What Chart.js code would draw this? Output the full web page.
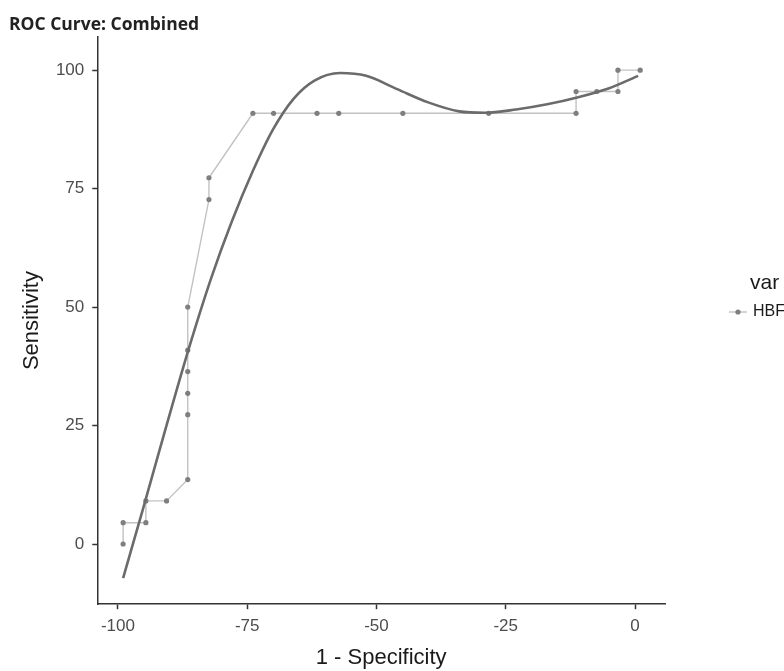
<!DOCTYPE html>
<html>
<head>
<meta charset="utf-8">
<script src="https://cdn.jsdelivr.net/npm/chart.js@4.4.1/dist/chart.umd.min.js"></script>
<style>
  html, body { margin: 0; padding: 0; background: #fff; overflow: hidden; }
  #wrap { width: 784px; height: 671px; }
</style>
</head>
<body>
<div id="wrap"><canvas id="rocChart"></canvas></div>
<script>
// ROC steps for HBF (1 - specificity, sensitivity)
const rocX = [-99, -99, -94.6, -94.6, -90.6, -86.5, -86.5, -86.5, -86.5, -86.5, -86.5,
    -82.4, -82.4, -73.9, -69.9, -61.5, -57.3, -44.9, -28.3, -11.4, -11.4, -7.4, -3.3, -3.3, 1];
const rocY = [0, 4.5, 4.5, 9.1, 9.1, 13.6, 27.3, 31.8, 36.4, 40.9, 50,
    72.7, 77.3, 90.9, 90.9, 90.9, 90.9, 90.9, 90.9, 90.9, 95.5, 95.5, 95.5, 100, 100];

// smoothed fit curve
const fitX = [-99, -95, -91, -86.5, -82, -78, -74, -70, -66, -62, -57, -52,
    -46, -40, -34, -29, -23, -17, -11, -5, 0.6];
const fitY = [-7.2, 8, 23.5, 40.5, 56, 68, 78.5, 87.5, 94, 97.8, 99.4, 98.8,
    96, 93.2, 91.3, 91, 91.7, 92.8, 94.3, 96.2, 98.8];

const xTicks = [-100, -75, -50, -25, 0];
const yTicks = [0, 25, 50, 75, 100];
const legendTitle = "var";

const tickFont = { family: "Liberation Sans", size: 17 };
const axisTitleFont = { family: "Liberation Sans", size: 22 };

const sideLegend = {
    id: "sideLegend",
    afterDraw(chart) {
        const ctx = chart.ctx;
        const ds = chart.data.datasets[1];
        ctx.save();
        ctx.textAlign = "left";
        ctx.textBaseline = "middle";
        ctx.fillStyle = "#1a1a1a";
        ctx.font = '21px "Liberation Sans"';
        ctx.fillText(legendTitle, 750, 283);
        ctx.strokeStyle = ds.borderColor;
        ctx.lineWidth = ds.borderWidth;
        ctx.beginPath();
        ctx.moveTo(729, 312);
        ctx.lineTo(747, 312);
        ctx.stroke();
        ctx.fillStyle = ds.pointBackgroundColor;
        ctx.beginPath();
        ctx.arc(738, 312, 2.6, 0, Math.PI * 2);
        ctx.fill();
        ctx.fillStyle = "#1a1a1a";
        ctx.font = '16px "Liberation Sans"';
        ctx.fillText(ds.label, 753, 312);
        ctx.restore();
    },
};

const ctx = document.getElementById("rocChart").getContext("2d");
const rocChart = new Chart(ctx, {
    type: "line",
    data: {
        datasets: [
            {
                label: "fit",
                data: fitX.map((x, i) => ({ x: x, y: fitY[i] })),
                borderColor: "#6b6b6b",
                borderWidth: 2.6,
                pointRadius: 0,
                cubicInterpolationMode: "monotone",
                fill: false,
            },
            {
                label: "HBF",
                data: rocX.map((x, i) => ({ x: x, y: rocY[i] })),
                borderColor: "#c2c2c2",
                borderWidth: 1.4,
                pointRadius: 2.6,
                pointBorderWidth: 0,
                pointBackgroundColor: "#7f7f7f",
                tension: 0,
                fill: false,
            },
        ],
    },
    options: {
        responsive: true,
        maintainAspectRatio: false,
        animation: false,
        layout: { padding: { left: 9, top: 0, right: 119, bottom: 0 } },
        plugins: {
            legend: { display: false },
            tooltip: { enabled: false },
            title: {
                display: true,
                text: "ROC Curve: Combined",
                align: "start",
                color: "#222",
                font: { family: "Open Sans", size: 17.5, weight: "bold" },
                padding: { top: 15, bottom: 1 },
            },
        },
        scales: {
            x: {
                type: "linear",
                min: -104,
                max: 5.8,
                afterBuildTicks: (s) => { s.ticks = xTicks.map((v) => ({ value: v })); },
                ticks: { font: tickFont, color: "#4d4d4d", padding: 7 },
                grid: { display: true, drawOnChartArea: false, tickLength: 5, tickColor: "#333", tickWidth: 1.5 },
                border: { display: true, color: "#333", width: 1.5 },
                title: { display: true, text: "1 - Specificity", font: axisTitleFont, color: "#1a1a1a", padding: { top: 1, bottom: 0 } },
            },
            y: {
                type: "linear",
                min: -12.7,
                max: 107,
                afterBuildTicks: (s) => { s.ticks = yTicks.map((v) => ({ value: v })); },
                ticks: { font: tickFont, color: "#4d4d4d", padding: 8 },
                grid: { display: true, drawOnChartArea: false, tickLength: 5, tickColor: "#333", tickWidth: 1.5 },
                border: { display: true, color: "#333", width: 1.5 },
                title: { display: true, text: "Sensitivity", font: axisTitleFont, color: "#1a1a1a", padding: { top: 10, bottom: 2.5 } },
            },
        },
    },
    plugins: [sideLegend],
});
</script>
</body>
</html>
